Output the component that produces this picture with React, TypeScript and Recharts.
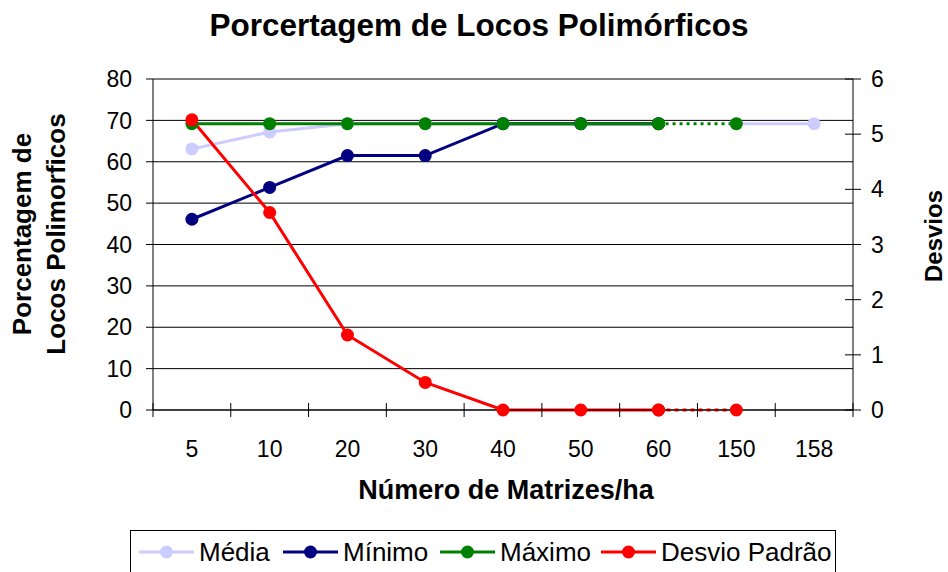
import React from 'react';
import { LineChart, Line, XAxis, YAxis, CartesianGrid, Legend } from 'recharts';

const categories = ['5', '10', '20', '30', '40', '50', '60', '150', '158'];
const media = [63.1, 67.2, 69.2, 69.2, 69.2, 69.2, 69.2, null, null];
const mediaTail = [null, null, null, null, null, null, null, 69.2, 69.2];
const minimo = [46.1, 53.8, 61.5, 61.5, 69.2, 69.2, 69.2, null, null];
const maximo = [69.2, 69.2, 69.2, 69.2, 69.2, 69.2, 69.2, null, null];
const maximoTail = [null, null, null, null, null, null, 69.2, 69.2, null];
const desvio = [5.26, 3.58, 1.36, 0.5, 0, 0, 0, null, null];
const desvioTail = [null, null, null, null, null, null, 0, 0, null];
const leftTicks = [0, 10, 20, 30, 40, 50, 60, 70, 80];
const rightTicks = [0, 1, 2, 3, 4, 5, 6];

const COLORS = { media: '#CCCCFF', minimo: '#000080', maximo: '#008000', desvio: '#FF0000' };
const legendItems = [
  { name: 'Média', color: COLORS.media },
  { name: 'Mínimo', color: COLORS.minimo },
  { name: 'Máximo', color: COLORS.maximo },
  { name: 'Desvio Padrão', color: COLORS.desvio },
];
const legendOffsets = [9, 153, 310, 471];

const data = categories.map((c, i) => ({
  idx: i,
  name: c,
  media: media[i],
  mediaTail: mediaTail[i],
  minimo: minimo[i],
  maximo: maximo[i],
  maximoTail: maximoTail[i],
  desvio: desvio[i],
  desvioTail: desvioTail[i],
}));

const xTicks: number[] = [];
for (let i = 0; i <= categories.length * 2; i++) xTicks.push(i / 2 - 0.5);

const FONT = '"Liberation Sans", Arial, sans-serif';

const XTick = (props: any) => {
  const { x, y, payload } = props;
  const v = payload.value;
  if (Number.isInteger(v)) {
    return (
      <text x={x} y={y + 47} textAnchor="middle" fontSize={23} fontFamily={FONT} fill="#000">
        {categories[v]}
      </text>
    );
  }
  return <line x1={x} x2={x} y1={y - 7} y2={y + 7} stroke="#000" strokeWidth={1} />;
};

const RightTick = (props: any) => {
  const { x, y, payload } = props;
  return (
    <g>
      <line x1={x - 26} x2={x - 10} y1={y} y2={y} stroke="#000" strokeWidth={1} />
      <text x={x} y={y} dy="0.355em" textAnchor="start" fontSize={23} fontFamily={FONT} fill="#000">
        {payload.value}
      </text>
    </g>
  );
};

const LeftLabel = () => (
  <g>
    <defs>
      <clipPath id="leftLabelClip">
        <rect x={0} y={113} width={120} height={300} />
      </clipPath>
    </defs>
    <g clipPath="url(#leftLabelClip)">
      <text
        transform="translate(31,234) rotate(-90)"
        textAnchor="middle"
        fontSize={26}
        fontWeight="bold"
        fontFamily={FONT}
        fill="#000"
      >
        Porcentagem de
      </text>
      <text
        transform="translate(65,234) rotate(-90)"
        textAnchor="middle"
        fontSize={26}
        fontWeight="bold"
        fontFamily={FONT}
        fill="#000"
      >
        Locos Polimorficos
      </text>
    </g>
  </g>
);

const RightLabel = () => (
  <text
    transform="translate(942,236) rotate(-90)"
    textAnchor="middle"
    fontSize={24}
    fontWeight="bold"
    fontFamily={FONT}
    fill="#000"
  >
    Desvios
  </text>
);

const BottomLabel = () => (
  <g>
    <text x={479} y={36} textAnchor="middle" fontSize={31.5} fontWeight="bold" fontFamily={FONT} fill="#000">
      Porcertagem de Locos Polimórficos
    </text>
    <text x={506} y={499} textAnchor="middle" fontSize={27} fontWeight="bold" fontFamily={FONT} fill="#000">
      Número de Matrizes/ha
    </text>
  </g>
);

const LegendBox = () => (
  <div
    style={{
      position: 'relative',
      boxSizing: 'border-box',
      width: 706,
      height: 50,
      border: '1px solid #000',
      fontFamily: FONT,
      fontSize: 26,
      color: '#000',
      background: '#fff',
    }}
  >
    {legendItems.map((it, i) => (
      <div
        key={it.name}
        style={{ position: 'absolute', left: legendOffsets[i] - 1, top: 5, display: 'flex', alignItems: 'center', height: 32 }}
      >
        <svg width={55} height={16} style={{ marginRight: 5 }}>
          <line x1={0} x2={55} y1={8} y2={8} stroke={it.color} strokeWidth={3} />
          <circle cx={27.5} cy={8} r={6.5} fill={it.color} />
        </svg>
        <span style={{ lineHeight: '32px', whiteSpace: 'nowrap' }}>{it.name}</span>
      </div>
    ))}
  </div>
);

const dot = (c: string) => ({ r: 6.5, fill: c, stroke: c, strokeWidth: 0 });

export default function App() {
  return (
    <div style={{ position: 'fixed', left: 0, top: 0, width: 948, height: 572, background: '#fff' }}>
      <LineChart
        width={948}
        height={572}
        data={data}
        margin={{ top: 79, right: 0, bottom: 102, left: 0 }}
      >
        <CartesianGrid horizontal vertical={false} stroke="#000" strokeWidth={1} yAxisId="left" />
        <XAxis
          dataKey="idx"
          type="number"
          domain={[-0.5, 8.5]}
          ticks={xTicks}
          interval={0}
          tick={<XTick />}
          tickLine={false}
          tickSize={0}
          tickMargin={0}
          height={60}
          axisLine={{ stroke: '#000', strokeWidth: 1 }}
          label={BottomLabel}
        />
        <YAxis
          yAxisId="left"
          orientation="left"
          domain={[0, 80]}
          ticks={leftTicks}
          interval={0}
          width={153}
          tickSize={7}
          tickMargin={14}
          tick={{ fontSize: 23, fontFamily: FONT, fill: '#000' }}
          tickLine={{ stroke: '#000' }}
          axisLine={{ stroke: '#000', strokeWidth: 1 }}
          label={LeftLabel}
        />
        <YAxis
          yAxisId="right"
          orientation="right"
          domain={[0, 6]}
          ticks={rightTicks}
          interval={0}
          width={95}
          tickSize={8}
          tickMargin={10}
          tick={<RightTick />}
          tickLine={false}
          axisLine={{ stroke: '#000', strokeWidth: 1 }}
          label={RightLabel}
        />
        <Legend
          layout="horizontal"
          verticalAlign="middle"
          align="center"
          wrapperStyle={{ position: 'absolute', left: 130, top: 530, width: 706, height: 50 }}
          content={<LegendBox />}
        />
        <Line yAxisId="left" dataKey="media" stroke={COLORS.media} strokeWidth={3} dot={dot(COLORS.media)} activeDot={false} isAnimationActive={false} legendType="circle" />
        <Line yAxisId="left" dataKey="mediaTail" stroke={COLORS.media} strokeWidth={3} dot={dot(COLORS.media)} activeDot={false} isAnimationActive={false} legendType="none" />
        <Line yAxisId="left" dataKey="minimo" stroke={COLORS.minimo} strokeWidth={3} dot={dot(COLORS.minimo)} activeDot={false} isAnimationActive={false} legendType="circle" />
        <Line yAxisId="left" dataKey="maximo" stroke={COLORS.maximo} strokeWidth={3} dot={dot(COLORS.maximo)} activeDot={false} isAnimationActive={false} legendType="circle" />
        <Line yAxisId="left" dataKey="maximoTail" stroke={COLORS.maximo} strokeWidth={3} strokeDasharray="3 4" dot={dot(COLORS.maximo)} activeDot={false} isAnimationActive={false} legendType="none" />
        <Line yAxisId="right" dataKey="desvio" stroke={COLORS.desvio} strokeWidth={3} dot={dot(COLORS.desvio)} activeDot={false} isAnimationActive={false} legendType="circle" />
        <Line yAxisId="right" dataKey="desvioTail" stroke={COLORS.desvio} strokeWidth={3} strokeDasharray="4 4" dot={dot(COLORS.desvio)} activeDot={false} isAnimationActive={false} legendType="none" />
      </LineChart>
    </div>
  );
}
